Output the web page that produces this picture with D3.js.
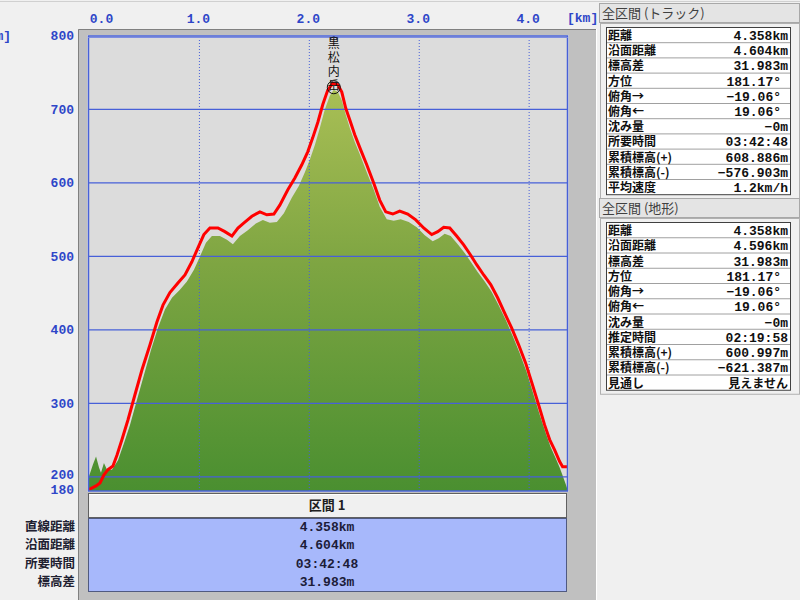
<!DOCTYPE html>
<html><head><meta charset="utf-8">
<script src="https://cdn.jsdelivr.net/npm/d3@7/dist/d3.min.js"></script>
<style>body{margin:0;background:#f0f0f0;overflow:hidden}svg{display:block}</style>
</head><body><svg id="c" width="800" height="600"></svg>
<script>
// ---- data ----
const trackKm = [0,0.064,0.10,0.136,0.173,0.218,0.255,0.30,0.355,0.418,0.482,0.555,0.618,0.673,0.736,0.809,0.873,0.936,0.991,1.045,1.10,1.173,1.236,1.30,1.355,1.418,1.482,1.555,1.618,1.682,1.736,1.809,1.873,1.936,1.991,2.036,2.082,2.127,2.173,2.218,2.264,2.30,2.336,2.373,2.418,2.473,2.527,2.591,2.645,2.70,2.764,2.827,2.90,2.973,3.045,3.118,3.173,3.227,3.282,3.345,3.409,3.464,3.527,3.591,3.655,3.718,3.782,3.845,3.909,3.973,4.036,4.091,4.145,4.191,4.236,4.282,4.309,4.358];
const trackElev = [182,187,191,202,209,214,229,250,277,311,345,379,410,433,450,463,474,492,511,529,538,538,533,527,538,546,554,560,556,557,569,590,606,624,642,661,682,706,726,735,733,723,701,685,665,644,624,599,576,560,557,561,557,549,538,529,533,539,538,527,515,503,488,474,461,443,422,402,379,354,324,297,270,250,236,220,213,213];
const terrainKm = [0,0.036,0.064,0.091,0.109,0.136,0.164,0.209,0.264,0.318,0.373,0.436,0.50,0.564,0.627,0.691,0.755,0.827,0.891,0.955,1.009,1.064,1.118,1.191,1.255,1.309,1.373,1.445,1.518,1.582,1.645,1.709,1.773,1.845,1.909,1.964,2.009,2.055,2.10,2.145,2.191,2.227,2.264,2.30,2.336,2.373,2.418,2.473,2.527,2.591,2.645,2.709,2.773,2.836,2.909,2.982,3.055,3.127,3.182,3.236,3.291,3.355,3.418,3.473,3.536,3.60,3.664,3.727,3.791,3.855,3.918,3.982,4.045,4.10,4.155,4.20,4.245,4.282,4.309,4.336,4.358];
const terrainElev = [200,216,227,212,205,218,209,209,222,245,270,304,338,372,402,427,443,454,465,481,499,518,527,527,522,516,527,535,544,549,545,546,558,579,595,614,631,651,674,699,718,726,723,712,692,674,655,635,614,590,567,550,548,550,546,539,528,520,524,530,527,516,504,492,478,465,451,433,413,391,368,342,311,284,259,240,225,212,201,190,180];
const xTicks = [0,1,2,3,4];
const yTicks = [180,200,300,400,500,600,700,800];
const gridY = [200,300,400,500,600,700];
const peak = {name:"黒松内岳", km:2.218, elev:735};
const trackLabels = ["距離","沿面距離","標高差","方位","俯角→","俯角←","沈み量","所要時間","累積標高(+)","累積標高(-)","平均速度"];
const trackValues = ["4.358km","4.604km","31.983m","181.17°","−19.06°","19.06°","−0m","03:42:48","608.886m","−576.903m","1.2km/h"];
const terrLabels = ["距離","沿面距離","標高差","方位","俯角→","俯角←","沈み量","推定時間","累積標高(+)","累積標高(-)","見通し"];
const terrValues = ["4.358km","4.596km","31.983m","181.17°","−19.06°","19.06°","−0m","02:19:58","600.997m","−621.387m","見えません"];
const sectionTitle = "区間 1";
const sectionLabels = ["直線距離","沿面距離","所要時間","標高差"];
const sectionValues = ["4.358km","4.604km","03:42:48","31.983m"];

// ---- drawing ----
const svg = d3.select("#c");
const CJK = "'Noto Sans CJK JP','Noto Sans',sans-serif";
const MONO = "'Liberation Mono','DejaVu Sans Mono',monospace";
const blue = "#2e46c8";

svg.append("line").attr("x1",0).attr("x2",800).attr("y1",1.5).attr("y2",1.5).attr("stroke","#d0d0d0");

// gray frame
svg.append("rect").attr("x",78).attr("y",29).attr("width",518).attr("height",575).attr("fill","#c0c0c0");
svg.append("path").attr("d","M78.5,600V29.5H596").attr("fill","none").attr("stroke","#808080");
svg.append("line").attr("x1",596.5).attr("x2",596.5).attr("y1",29).attr("y2",600).attr("stroke","#ffffff");

const x = d3.scaleLinear().domain([0,4.358]).range([89,568]);
const y = d3.scaleLinear().domain([180,800]).range([491,35.5]);

svg.append("rect").attr("x",87).attr("y",35).attr("width",482).attr("height",457).attr("fill","#dcdcdc");

const defs = svg.append("defs");
const grad = defs.append("linearGradient").attr("id","g").attr("gradientUnits","userSpaceOnUse")
  .attr("x1",0).attr("x2",0).attr("y1",y(740)).attr("y2",y(180));
grad.append("stop").attr("offset",0).attr("stop-color","#abc056");
grad.append("stop").attr("offset",0.45).attr("stop-color","#7ea542");
grad.append("stop").attr("offset",1).attr("stop-color","#4a8f30");
defs.append("clipPath").attr("id","clip").append("rect").attr("x",88).attr("y",35).attr("width",480).attr("height",456);

const terrain = terrainKm.map((k,i)=>[k,terrainElev[i]]);
const track = trackKm.map((k,i)=>[k,trackElev[i]]);

const pg = svg.append("g").attr("clip-path","url(#clip)");
pg.append("path").datum(terrain)
  .attr("d", d3.area().x(d=>x(d[0])).y0(y(180)).y1(d=>y(d[1])))
  .attr("fill","url(#g)");

pg.append("g").attr("transform",`translate(${x(0)},0)`)
  .call(d3.axisLeft(y).tickValues(gridY).tickSize(-(x(4.358)-x(0))).tickFormat(""))
  .call(g=>g.select(".domain").remove())
  .call(g=>g.selectAll("line").attr("stroke","#4760d8").attr("stroke-width",1.2));
pg.append("g").attr("transform",`translate(0,${y(180)})`)
  .call(d3.axisTop(x).tickValues([1,2,3,4]).tickSize(y(180)-y(800)).tickFormat(""))
  .call(g=>g.select(".domain").remove())
  .call(g=>g.selectAll("line").attr("stroke","#4760d8").attr("stroke-dasharray","1,2"));

pg.append("path").datum(track)
  .attr("d", d3.line().x(d=>x(d[0])).y(d=>y(d[1])))
  .attr("fill","none").attr("stroke","#ff0000").attr("stroke-width",3).attr("stroke-linejoin","miter");

svg.append("rect").attr("x",88.5).attr("y",36).attr("width",479).attr("height",455)
  .attr("fill","none").attr("stroke","#4760d8").attr("stroke-width",1.5);
svg.append("line").attr("x1",88).attr("x2",568).attr("y1",37.5).attr("y2",37.5).attr("stroke","#7f8ee0").attr("stroke-width",1);

// axes
const yAxis = svg.append("g").attr("transform","translate(76,0)")
  .call(d3.axisLeft(y).tickValues(yTicks).tickSize(0).tickPadding(2).tickFormat(d3.format("d")));
yAxis.select(".domain").remove();
yAxis.selectAll("text").attr("fill",blue).attr("font-family",MONO).attr("font-weight","bold").attr("font-size",13)
  .attr("dy",d=>d===180?"0.2em":d===200?"0.2em":"0.32em");

const xAxis = svg.append("g").attr("transform","translate(0,23)")
  .call(d3.axisTop(x).tickValues(xTicks).tickSize(0).tickPadding(0).tickFormat(d3.format(".1f")));
xAxis.select(".domain").remove();
xAxis.selectAll("text").attr("fill",blue).attr("font-family",MONO).attr("font-weight","bold").attr("font-size",13)
  .attr("dx",d=>d===0?12:-1);
svg.append("text").attr("x",567).attr("y",22).text("[km]").attr("fill",blue).attr("font-family",MONO).attr("font-weight","bold").attr("font-size",13);
svg.append("text").attr("x",11).attr("y",40).attr("text-anchor","end").text("[m]").attr("fill",blue).attr("font-family",MONO).attr("font-weight","bold").attr("font-size",13);

// peak label (vertical text)
const px = x(peak.km)+1, py = y(peak.elev);
svg.append("path").attr("d",`M${px-4},39 L${px},36.5 L${px+4},39`).attr("stroke","#203080").attr("fill","none");
svg.append("text").attr("x",px).attr("y",py-46)
  .style("writing-mode","vertical-rl").style("text-orientation","upright")
  .attr("letter-spacing",2)
  .attr("font-family",CJK).attr("font-size",12).attr("fill","#101010").text(peak.name);
svg.append("circle").attr("cx",px).attr("cy",py+4).attr("r",6.5).attr("fill","none").attr("stroke","#101010").attr("stroke-width",1);

// multi-row text helper: one text element, one tspan per row
function column(xPos, anchor, y0, pitch, items, fontFn, sizeFn, fill, xFn){
  const t = svg.append("text").attr("font-weight","bold").attr("fill",fill);
  t.selectAll("tspan").data(items).join("tspan")
    .attr("x",(d,i)=>xFn?xFn(d,i):xPos).attr("y",(d,i)=>y0+i*pitch)
    .attr("text-anchor",anchor)
    .attr("font-family",fontFn).attr("font-size",sizeFn)
    .text(d=>d);
  return t;
}

// bottom section table
svg.append("rect").attr("x",88.5).attr("y",493.5).attr("width",478).attr("height",24).attr("fill","#f0f0f0").attr("stroke","#606060");
svg.append("line").attr("x1",89).attr("x2",566).attr("y1",494.5).attr("y2",494.5).attr("stroke","#ffffff");
svg.append("text").attr("x",327).attr("y",510).attr("text-anchor","middle").attr("font-family",CJK).attr("font-weight","bold")
  .attr("font-size",13).attr("fill","#202020").text(sectionTitle);
svg.append("rect").attr("x",88.5).attr("y",518.5).attr("width",478).attr("height",73).attr("fill","#a7b8fb").attr("stroke","#505a80");
column(327,"middle",531,18.3,sectionValues,MONO,13,"#1c1c38");
column(75,"end",531,18.3,sectionLabels,CJK,12.5,"#202030");

// right panels
function panel(top, title, labels, values, rowTop, pitch){
  svg.append("rect").attr("x",599.5).attr("y",top+0.5).attr("width",200).attr("height",19).attr("fill","#e4e4e4").attr("stroke","#a8a8a8");
  svg.append("text").attr("x",602).attr("y",top+15).attr("font-family",CJK).attr("font-size",13).attr("fill","#404040").text(title);
  svg.append("rect").attr("x",600.5).attr("y",top+20.5).attr("width",199).attr("height",pitch*labels.length+8).attr("fill","#f0f0f0").attr("stroke","#b0b0b0");
  svg.append("rect").attr("x",606.5).attr("y",rowTop-0.5).attr("width",184).attr("height",pitch*labels.length).attr("fill","#ffffff").attr("stroke","#404040");
  labels.forEach((l,i)=>{
    const ry = rowTop + i*pitch;
    if(i>0) svg.append("line").attr("x1",607).attr("x2",790).attr("y1",ry-0.5).attr("y2",ry-0.5).attr("stroke","#a0a0a0");
  });
  column(608,"start",rowTop+12,pitch,labels,CJK,12,"#101010");
  const isCjk = v=>/[\u3040-\u30ff]/.test(v);
  column(788,"end",rowTop+12,pitch,values,v=>isCjk(v)?CJK:MONO,v=>isCjk(v)?12:13,"#101010",
    v=>v.endsWith("°")?781:788);
}
panel(3,"全区間 (トラック)",trackLabels,trackValues,28,15.2);
panel(198,"全区間 (地形)",terrLabels,terrValues,223,15.25);
</script></body></html>
